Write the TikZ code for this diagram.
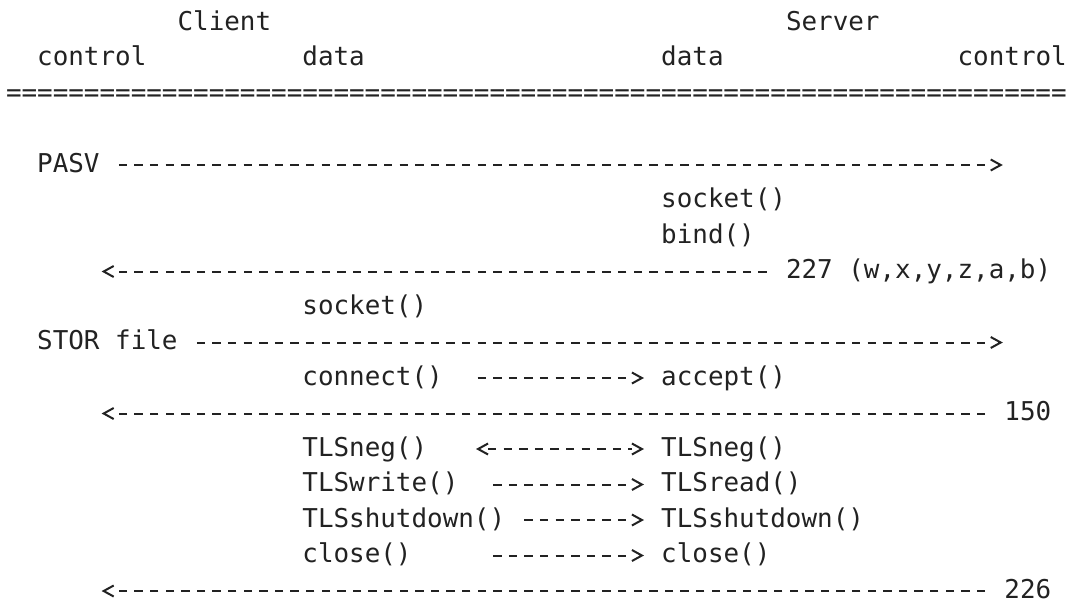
\documentclass[tikz,border=0pt]{standalone}
\usepackage{fontspec}
\setmonofont{DejaVu Sans Mono}
\definecolor{ink}{HTML}{222222}
\pgfdeclarearrow{
  name = glyph,
  parameters = {},
  setup code = {
    \pgfarrowssettipend{2.08pt}
    \pgfarrowssetlineend{-10pt}
    \pgfarrowssetbackend{-10pt}
    \pgfarrowssetvisualbackend{-10pt}
  },
  drawing code = {
    \pgfsetdash{}{0pt}
    \pgfsetmiterjoin
    \pgfsetbuttcap
    \pgfpathmoveto{\pgfqpoint{-10pt}{5.5pt}}
    \pgfpathlineto{\pgfqpoint{0pt}{0pt}}
    \pgfpathlineto{\pgfqpoint{-10pt}{-5.5pt}}
    \pgfusepathqstroke
  }
}

\begin{document}
\begin{tikzpicture}[
x=15.6pt, y=-35.5pt,
txt/.style={anchor=base west, inner sep=0pt, outer sep=0pt, text=ink, font=\ttfamily\fontsize{25.91pt}{35.5pt}\selectfont},
msg/.style={draw=ink, line width=2pt, dash pattern=on 8.4pt off 7.2pt},
>={glyph}
]
\useasboundingbox (0pt,0pt) rectangle (1071pt,-606pt);
\begin{scope}[shift={(6pt,-30pt)}]
\node[txt] (client) at (11,0) {Client};
\node[txt] (server) at (50,0) {Server};
\node[txt] (cctl) at (2,1) {control};
\node[txt] (cdata) at (19,1) {data};
\node[txt] (sdata) at (42,1) {data};
\node[txt] (sctl) at (61,1) {control};
\node[txt] (rule) at (0,2) {====================================================================};
\node[txt] (pasv) at (2,4) {PASV};
\node[txt] (ssock) at (42,5) {socket()};
\node[txt] (sbind) at (42,6) {bind()};
\node[txt] (r227) at (50,7) {227 (w,x,y,z,a,b)};
\node[txt] (csock) at (19,8) {socket()};
\node[txt] (stor) at (2,9) {STOR file};
\node[txt] (cconn) at (19,10) {connect()};
\node[txt] (saccept) at (42,10) {accept()};
\node[txt] (r150) at (64,11) {150};
\node[txt] (cneg) at (19,12) {TLSneg()};
\node[txt] (sneg) at (42,12) {TLSneg()};
\node[txt] (cwrite) at (19,13) {TLSwrite()};
\node[txt] (sread) at (42,13) {TLSread()};
\node[txt] (cshut) at (19,14) {TLSshutdown()};
\node[txt] (sshut) at (42,14) {TLSshutdown()};
\node[txt] (cclose) at (19,15) {close()};
\node[txt] (sclose) at (42,15) {close()};
\node[txt] (r226) at (64,16) {226};
\coordinate (pasvEnd) at ([shift={(14pt,7pt)}]63,4);
\coordinate (storEnd) at ([shift={(14pt,7pt)}]63,9);
\coordinate (ret227) at ([shift={(2pt,7pt)}]6,7);
\coordinate (ret150) at ([shift={(2pt,7pt)}]6,11);
\coordinate (ret226) at ([shift={(2pt,7pt)}]6,16);
\draw[msg, ->, shorten <=19.2pt] ([yshift=7pt]pasv.base east) -- (pasvEnd);
\draw[msg, ->, shorten <=19.2pt] ([yshift=7pt]r227.base west) -- (ret227);
\draw[msg, ->, shorten <=19.2pt] ([yshift=7pt]stor.base east) -- (storEnd);
\draw[msg, ->, shorten <=34.8pt, shorten >=17.2pt] ([yshift=7pt]cconn.base east) -- ([yshift=7pt]saccept.base west);
\draw[msg, ->, shorten <=19.2pt] ([yshift=7pt]r150.base west) -- (ret150);
\draw[msg, <->, shorten <=48.8pt, shorten >=17.2pt] ([yshift=7pt]cneg.base east) -- ([yshift=7pt]sneg.base west);
\draw[msg, ->, shorten <=34.8pt, shorten >=17.2pt] ([yshift=7pt]cwrite.base east) -- ([yshift=7pt]sread.base west);
\draw[msg, ->, shorten <=19.2pt, shorten >=17.2pt] ([yshift=7pt]cshut.base east) -- ([yshift=7pt]sshut.base west);
\draw[msg, ->, shorten <=81.6pt, shorten >=17.2pt] ([yshift=7pt]cclose.base east) -- ([yshift=7pt]sclose.base west);
\draw[msg, ->, shorten <=19.2pt] ([yshift=7pt]r226.base west) -- (ret226);
\end{scope}
\end{tikzpicture}
\end{document}
